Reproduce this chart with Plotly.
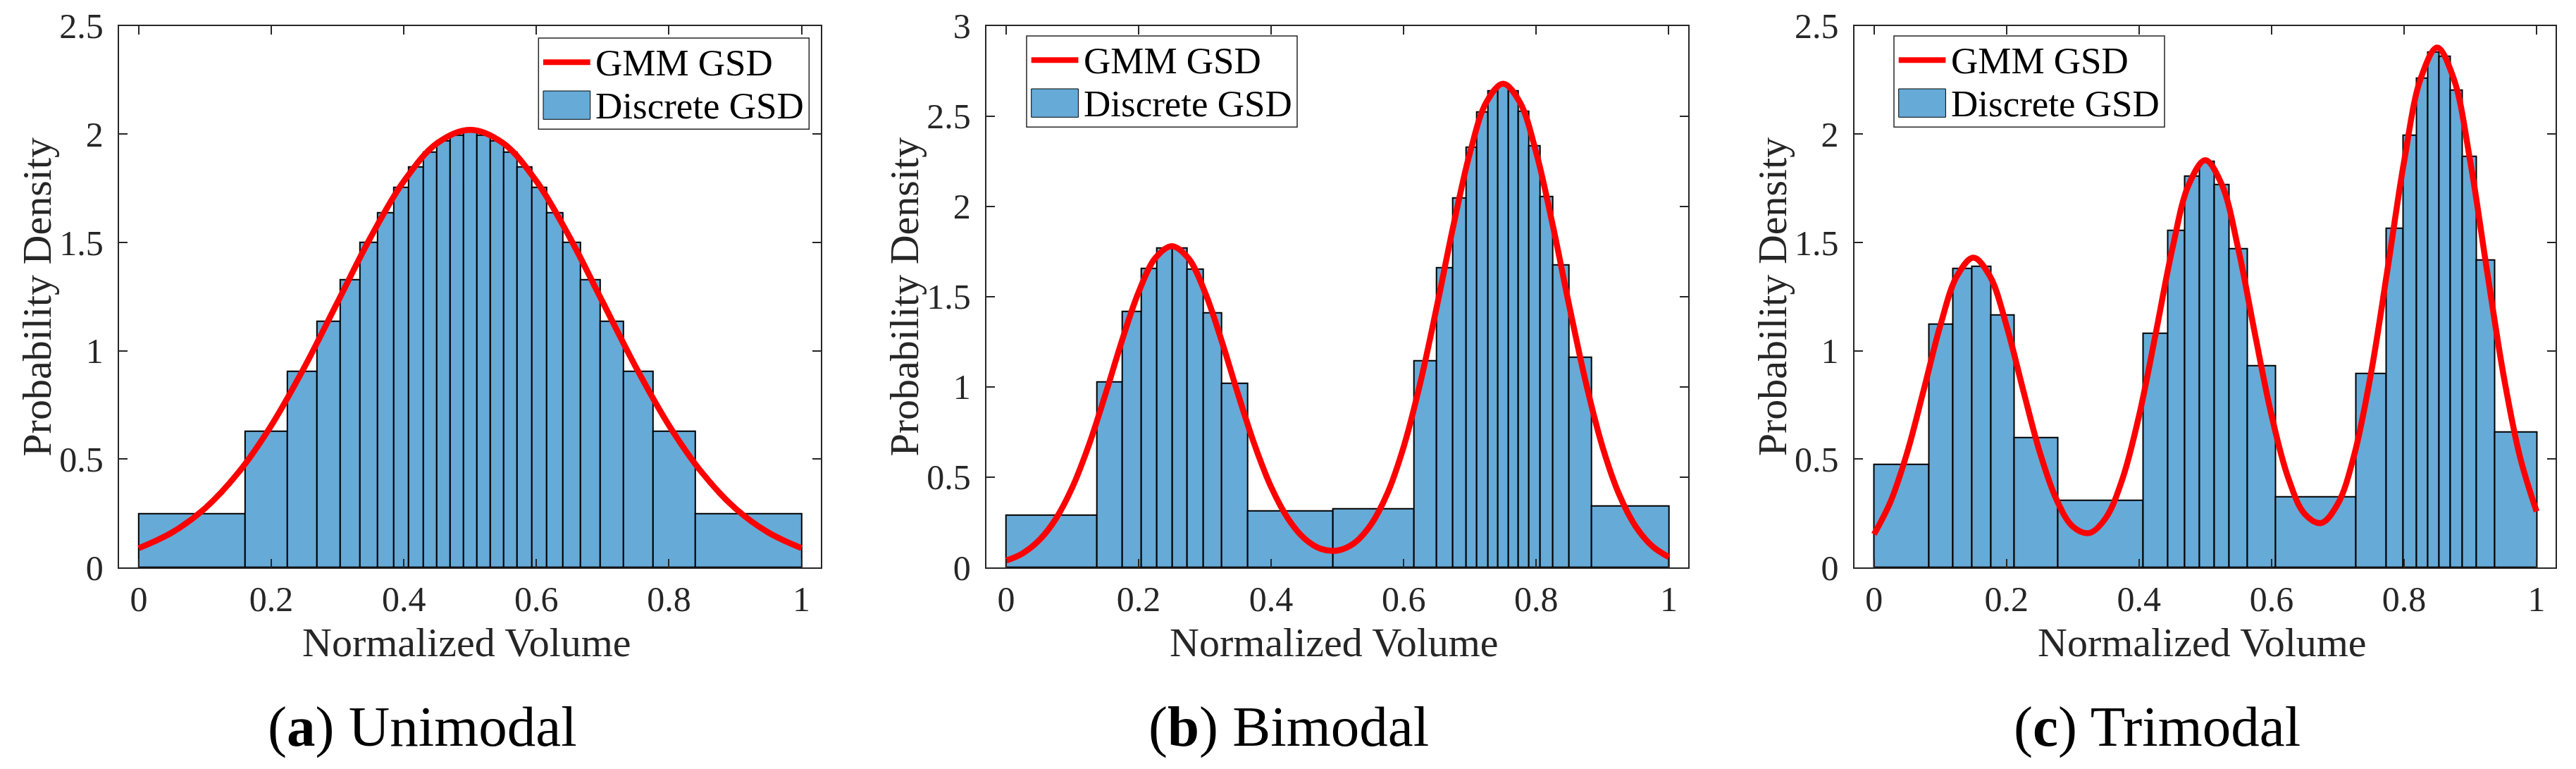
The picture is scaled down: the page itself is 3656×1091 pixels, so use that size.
import plotly.graph_objects as go

# ---------------- data ----------------
X_TICKS = [0, 0.2, 0.4, 0.6, 0.8, 1]
X_TICK_TEXT = ["0", "0.2", "0.4", "0.6", "0.8", "1"]

# (a) Unimodal
A_EDGES = [0, 0.1606, 0.2243, 0.2687, 0.3041, 0.3337, 0.3602, 0.3845, 0.4069, 0.4292,
           0.4496, 0.4699, 0.4902, 0.5098, 0.5301, 0.5504, 0.5708, 0.5931, 0.6155, 0.6398,
           0.6663, 0.6959, 0.7313, 0.7757, 0.8394, 1.0]
A_HEIGHTS = [0.249, 0.628, 0.905, 1.136, 1.330, 1.500, 1.639, 1.756, 1.848, 1.918,
             1.969, 1.996, 2.012, 1.996, 1.969, 1.918, 1.848, 1.756, 1.639, 1.500,
             1.330, 1.136, 0.905, 0.628, 0.249]
A_CURVE_X = [0, 0.05, 0.1, 0.15, 0.2, 0.25, 0.3, 0.35, 0.4, 0.45, 0.5,
             0.55, 0.6, 0.65, 0.7, 0.75, 0.8, 0.85, 0.9, 0.95, 1.0]
A_CURVE_Y = [0.089, 0.161, 0.273, 0.437, 0.656, 0.925, 1.225, 1.525, 1.783, 1.958, 2.020,
             1.958, 1.783, 1.525, 1.225, 0.925, 0.656, 0.437, 0.273, 0.161, 0.089]
A_YTICKS = [0, 0.5, 1, 1.5, 2, 2.5]
A_YTICK_TEXT = ["0", "0.5", "1", "1.5", "2", "2.5"]

# (b) Bimodal
B_EDGES = [0, 0.1371, 0.1753, 0.2042, 0.2276, 0.2512, 0.2735, 0.2975, 0.3254, 0.3647,
           0.4930, 0.6149, 0.6496, 0.6743, 0.6938, 0.7104, 0.7267, 0.7423, 0.7575, 0.7727,
           0.7887, 0.8057, 0.8248, 0.8488, 0.8828, 1.0]
B_HEIGHTS = [0.291, 1.029, 1.418, 1.656, 1.769, 1.769, 1.652, 1.409, 1.019, 0.312,
             0.325, 1.145, 1.662, 2.047, 2.329, 2.524, 2.642, 2.667, 2.642, 2.527,
             2.336, 2.056, 1.676, 1.164, 0.340]
FINE_X = [0, 0.025, 0.05, 0.075, 0.1, 0.125, 0.15, 0.175, 0.2, 0.225, 0.25, 0.275, 0.3,
          0.325, 0.35, 0.375, 0.4, 0.425, 0.45, 0.475, 0.5, 0.525, 0.55, 0.575, 0.6,
          0.625, 0.65, 0.675, 0.7, 0.725, 0.75, 0.775, 0.8, 0.825, 0.85, 0.875, 0.9,
          0.925, 0.95, 0.975, 1.0]
B_CURVE_Y = [0.038, 0.078, 0.151, 0.269, 0.444, 0.679, 0.960, 1.258, 1.525, 1.713, 1.780,
             1.713, 1.525, 1.258, 0.960, 0.679, 0.445, 0.273, 0.161, 0.103, 0.094,
             0.134, 0.234, 0.407, 0.669, 1.022, 1.446, 1.894, 2.297, 2.579, 2.680,
             2.579, 2.297, 1.894, 1.446, 1.022, 0.668, 0.405, 0.227, 0.118, 0.057]
B_YTICKS = [0, 0.5, 1, 1.5, 2, 2.5, 3]
B_YTICK_TEXT = ["0", "0.5", "1", "1.5", "2", "2.5", "3"]

# (c) Trimodal
C_EDGES = [0, 0.0829, 0.1191, 0.1475, 0.1763, 0.2110, 0.2777, 0.4062, 0.4434, 0.4690,
           0.4913, 0.5133, 0.5353, 0.5633, 0.6055, 0.7276, 0.7726, 0.7981, 0.8184, 0.8354,
           0.8524, 0.8695, 0.8876, 0.9089, 0.9366, 1.0]
C_HEIGHTS = [0.476, 1.124, 1.381, 1.392, 1.165, 0.600, 0.310, 1.081, 1.556, 1.808,
             1.876, 1.768, 1.472, 0.932, 0.327, 0.897, 1.567, 1.995, 2.259, 2.378,
             2.360, 2.204, 1.899, 1.419, 0.625]
C_CURVE_Y = [0.153, 0.304, 0.530, 0.819, 1.116, 1.344, 1.430, 1.344, 1.116, 0.820, 0.534,
             0.316, 0.189, 0.159, 0.229, 0.409, 0.700, 1.077, 1.467, 1.767, 1.880,
             1.767, 1.467, 1.077, 0.702, 0.415, 0.247, 0.205, 0.293, 0.522, 0.894,
             1.375, 1.873, 2.256, 2.400, 2.256, 1.873, 1.374, 0.890, 0.510, 0.258]

CAPTION_LETTERS = ["a", "b", "c"]
CAPTION_NAMES = ["Unimodal", "Bimodal", "Trimodal"]
LEGEND_NAMES = ["GMM GSD", "Discrete GSD"]

# ---------------- styling / layout ----------------
W, H = 3656, 1091
FONT = "Liberation Serif, Times New Roman, serif"
AX = "rgb(38,38,38)"
BLUE = "rgb(102,170,215)"
PLOT_TOP, PLOT_BOTTOM = 36.7, 805.0


def px(x):
    return x / W


def py(y):
    return 1 - y / H


panels = [
    dict(edges=A_EDGES, heights=A_HEIGHTS, cx=A_CURVE_X, cy=A_CURVE_Y,
         yr=[0, 2.5], yt=A_YTICKS, ytt=A_YTICK_TEXT,
         left=168.8, right=1164.8, cap=599, leg=(764.3, 54)),
    dict(edges=B_EDGES, heights=B_HEIGHTS, cx=FINE_X, cy=B_CURVE_Y,
         yr=[0, 3], yt=B_YTICKS, ytt=B_YTICK_TEXT,
         left=1399.7, right=2395.7, cap=1829, leg=(1457, 51)),
    dict(edges=C_EDGES, heights=C_HEIGHTS, cx=FINE_X, cy=C_CURVE_Y,
         yr=[0, 2.5], yt=A_YTICKS, ytt=A_YTICK_TEXT,
         left=2631.5, right=3627.3, cap=3061, leg=(2688, 51)),
]

fig = go.Figure()
annotations = []
shapes = []
layout = {}

for i, p in enumerate(panels):
    sfx = "" if i == 0 else str(i + 1)
    xa, ya = "x" + sfx, "y" + sfx
    edges = p["edges"]
    centers = [(edges[k] + edges[k + 1]) / 2 for k in range(len(edges) - 1)]
    widths = [edges[k + 1] - edges[k] for k in range(len(edges) - 1)]

    fig.add_trace(go.Bar(
        x=centers, y=p["heights"], width=widths,
        marker=dict(color=BLUE, line=dict(color="black", width=2)),
        xaxis=xa, yaxis=ya, showlegend=False, name=LEGEND_NAMES[1]))
    fig.add_trace(go.Scatter(
        x=p["cx"], y=p["cy"], mode="lines",
        line=dict(color="red", width=8.5, shape="spline", smoothing=1.0),
        xaxis=xa, yaxis=ya, showlegend=False, name=LEGEND_NAMES[0]))

    common = dict(showline=True, linecolor=AX, linewidth=2, mirror="ticks",
                  ticks="inside", ticklen=12, tickwidth=2, tickcolor=AX,
                  showgrid=False, zeroline=False, automargin=False,
                  tickfont=dict(family=FONT, size=50, color=AX))
    layout["xaxis" + sfx] = dict(
        domain=[px(p["left"]), px(p["right"])], range=[-0.03, 1.029],
        anchor=ya, tickmode="array", tickvals=X_TICKS, ticktext=X_TICK_TEXT,
        ticklabelstandoff=0, **common)
    layout["yaxis" + sfx] = dict(
        domain=[py(PLOT_BOTTOM), py(PLOT_TOP)], range=p["yr"],
        anchor=xa, tickmode="array", tickvals=p["yt"], ticktext=p["ytt"],
        ticklabelstandoff=10, **common)

    # axis titles
    annotations.append(dict(
        text="Normalized Volume", xref="paper", yref="paper",
        x=px((p["left"] + p["right"]) / 2 - 4), y=py(911),
        xanchor="center", yanchor="middle", showarrow=False,
        font=dict(family=FONT, size=58, color=AX)))
    annotations.append(dict(
        text="Probability Density", xref="paper", yref="paper",
        x=px(p["left"] - 116), y=py((PLOT_TOP + PLOT_BOTTOM) / 2),
        xanchor="center", yanchor="middle", textangle=-90, showarrow=False,
        font=dict(family=FONT, size=58, color=AX)))
    # caption
    annotations.append(dict(
        text="(<b>%s</b>) %s" % (CAPTION_LETTERS[i], CAPTION_NAMES[i]),
        xref="paper", yref="paper", x=px(p["cap"]), y=py(1031),
        xanchor="center", yanchor="middle", showarrow=False,
        font=dict(family=FONT, size=81, color="black")))

    # legend (drawn manually to match the MATLAB style)
    L, T = p["leg"]
    shapes.append(dict(type="rect", xref="paper", yref="paper",
                       x0=px(L), x1=px(L + 384), y0=py(T + 129.3), y1=py(T),
                       line=dict(color=AX, width=1.5), fillcolor="white"))
    shapes.append(dict(type="line", xref="paper", yref="paper",
                       x0=px(L + 6.7), x1=px(L + 73.4), y0=py(T + 34.3), y1=py(T + 34.3),
                       line=dict(color="red", width=8)))
    shapes.append(dict(type="rect", xref="paper", yref="paper",
                       x0=px(L + 6.7), x1=px(L + 73.4), y0=py(T + 115.3), y1=py(T + 75),
                       line=dict(color="black", width=1), fillcolor=BLUE))
    annotations.append(dict(
        text=LEGEND_NAMES[0], xref="paper", yref="paper",
        x=px(L + 79), y=py(T + 35), xanchor="left", yanchor="middle",
        showarrow=False, font=dict(family=FONT, size=53, color="black")))
    annotations.append(dict(
        text=LEGEND_NAMES[1], xref="paper", yref="paper",
        x=px(L + 79), y=py(T + 96), xanchor="left", yanchor="middle",
        showarrow=False, font=dict(family=FONT, size=53, color="black")))

fig.update_layout(
    width=W, height=H, autosize=False,
    margin=dict(l=0, r=0, t=0, b=0, pad=0, autoexpand=False),
    paper_bgcolor="white", plot_bgcolor="white",
    showlegend=False, bargap=0,
    annotations=annotations, shapes=shapes,
    **layout)

fig.write_html("out.html")
